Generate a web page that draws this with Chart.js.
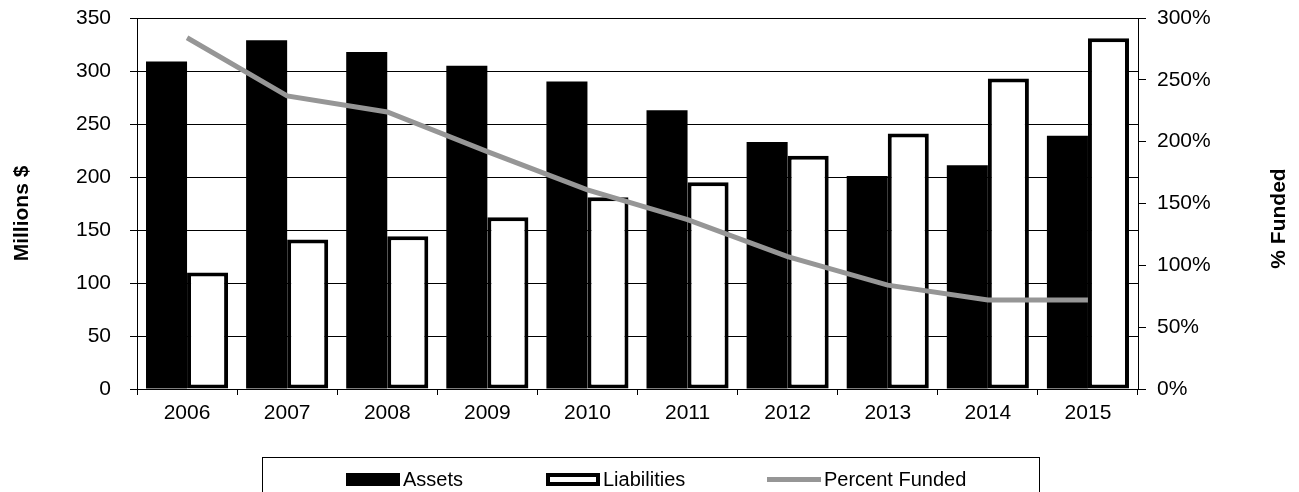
<!DOCTYPE html>
<html>
<head>
<meta charset="utf-8">
<script src="https://cdn.jsdelivr.net/npm/chart.js@4/dist/chart.umd.min.js"></script>
<style>
    body { margin: 0; background: #fff; }
    #wrap { position: relative; width: 1299px; height: 492px; overflow: hidden; }
    #legend {
        position: absolute; left: 262px; top: 457px; width: 778px; height: 60px;
        border: 1px solid #000; box-sizing: border-box;
        font: 20px "Liberation Sans", Arial, sans-serif; color: #000;
    }
    .legend-item { position: absolute; top: 9px; display: flex; align-items: center; height: 24px; }
    .legend-swatch { width: 54px; margin-right: 3px; box-sizing: border-box; }
</style>
</head>
<body>
<div id="wrap">
    <canvas id="fundingChart"></canvas>
    <div id="legend"></div>
</div>
<script>
const years = ['2006', '2007', '2008', '2009', '2010', '2011', '2012', '2013', '2014', '2015'];
const assets = [309, 329, 318, 305, 290, 263, 233, 201, 211, 239];
const liabilities = [110, 141, 144, 162, 181, 195, 220, 241, 293, 331];
const percentFunded = [284, 237, 224, 192, 161, 137, 107, 84, 72, 72];

const leftTicks = [0, 50, 100, 150, 200, 250, 300, 350];
const rightTicks = [0, 50, 100, 150, 200, 250, 300];

const FONT = '"Liberation Sans", Arial, sans-serif';
const tickFont = { family: FONT, size: 21 };

// rotated axis titles, both reading bottom to top
const axisTitles = {
    id: 'axisTitles',
    afterDraw(chart) {
        const { ctx, chartArea } = chart;
        const mid = (chartArea.top + chartArea.bottom) / 2;
        ctx.save();
        ctx.font = `bold 21px ${FONT}`;
        ctx.fillStyle = '#000';
        ctx.textAlign = 'center';
        ctx.textBaseline = 'middle';
        [[22, mid + 10, 'Millions $'], [chart.width - 20, mid + 15, '% Funded']].forEach(([x, y, text]) => {
            ctx.save();
            ctx.translate(x, y);
            ctx.rotate(-Math.PI / 2);
            ctx.fillText(text, 0, 0);
            ctx.restore();
        });
        ctx.restore();
    }
};

// fixed axis widths; drop the label padding so the plot area starts at the layout padding
const fixWidth = w => s => {
    s.width = w;
    s.paddingTop = 0;
    s.paddingBottom = 0;
};

const chart = new Chart(document.getElementById('fundingChart'), {
    type: 'bar',
    data: {
        labels: years,
        datasets: [
            {
                label: 'Assets', data: assets, order: 1, yAxisID: 'y',
                backgroundColor: '#000', borderColor: '#000', borderWidth: 0,
                barPercentage: 1, categoryPercentage: 0.82
            },
            {
                label: 'Liabilities', data: liabilities, order: 1, yAxisID: 'y',
                backgroundColor: '#fff', borderColor: '#000', borderWidth: 4, borderSkipped: false,
                barPercentage: 1, categoryPercentage: 0.82
            },
            {
                type: 'line', label: 'Percent Funded', data: percentFunded, order: 0, yAxisID: 'y1',
                borderColor: '#969696', borderWidth: 5, pointRadius: 0, tension: 0, fill: false
            }
        ]
    },
    options: {
        responsive: true,
        maintainAspectRatio: false,
        animation: false,
        layout: { padding: { top: 18, left: 0, right: 0, bottom: 0 } },
        plugins: { legend: { display: false }, tooltip: { enabled: false } },
        scales: {
            x: {
                afterFit: s => { s.height = 103; },
                grid: { drawOnChartArea: false, tickLength: 6, tickColor: '#000' },
                border: { color: '#000', width: 1 },
                ticks: { color: '#000', font: tickFont, padding: 6 }
            },
            y: {
                position: 'left', min: 0, max: 350,
                afterFit: fixWidth(137),
                afterBuildTicks: s => { s.ticks = leftTicks.map(v => ({ value: v })); },
                grid: { color: '#000', lineWidth: 1, tickLength: 7, tickColor: '#000' },
                border: { color: '#000', width: 1 },
                ticks: { color: '#000', font: tickFont, padding: 19 }
            },
            y1: {
                position: 'right', min: 0, max: 300,
                afterFit: fixWidth(161),
                afterBuildTicks: s => { s.ticks = rightTicks.map(v => ({ value: v })); },
                grid: { drawOnChartArea: false, tickLength: 8, tickColor: '#000' },
                border: { color: '#000', width: 1 },
                ticks: { color: '#000', font: tickFont, padding: 11, callback: v => v + '%' }
            }
        }
    },
    plugins: [axisTitles]
});

// legend built from the dataset styles
const legendOffsets = [83, 283, 504];
const legendEl = document.getElementById('legend');
chart.data.datasets.forEach((ds, i) => {
    const item = document.createElement('div');
    item.className = 'legend-item';
    item.style.left = legendOffsets[i] + 'px';
    const sw = document.createElement('span');
    sw.className = 'legend-swatch';
    if (ds.type === 'line') {
        sw.style.height = ds.borderWidth + 'px';
        sw.style.background = ds.borderColor;
    } else {
        sw.style.height = '13px';
        sw.style.background = ds.backgroundColor;
        sw.style.border = `${ds.borderWidth}px solid ${ds.borderColor}`;
    }
    const txt = document.createElement('span');
    txt.textContent = ds.label;
    item.append(sw, txt);
    legendEl.appendChild(item);
});
</script>
</body>
</html>
